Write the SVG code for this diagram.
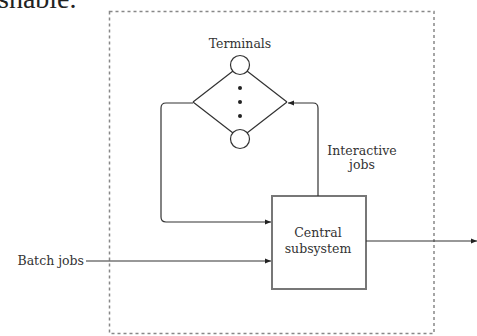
<svg xmlns="http://www.w3.org/2000/svg" width="477" height="336" viewBox="0 0 477 336">
<defs>
<style>
.t{font-family:"DejaVu Serif","Liberation Serif",serif;font-size:12.5px;fill:#333}
.ln{fill:none;stroke:#333;stroke-width:1.2}
.g{fill:none;stroke:#777;stroke-width:2}
</style>
<marker id="ah" viewBox="0 0 10 10" refX="10" refY="5" markerWidth="7" markerHeight="6" orient="auto" markerUnits="userSpaceOnUse">
<path d="M0,1 L10,5 L0,9 z" fill="#222"/>
</marker>
</defs>
<rect width="477" height="336" fill="#fff"/>
<text x="-2" y="8" style="font-family:'Liberation Serif',serif;font-size:28px;fill:#222">shable.</text>
<rect id="boundary" x="109.5" y="11.5" width="324.5" height="322" fill="none" stroke="#888" stroke-width="1.5" stroke-dasharray="3,3"/>
<g id="terminals">
<text class="t" x="240" y="48" text-anchor="middle" font-size="12">Terminals</text>
<circle cx="240" cy="65" r="9.5" fill="#fff" stroke="#333" stroke-width="1.2"/>
<circle cx="240" cy="139" r="9.5" fill="#fff" stroke="#333" stroke-width="1.2"/>
<path class="ln" d="M193,102 L233,71 M193,102 L233,133 M287,102 L247,71 M287,102 L247,133"/>
<circle cx="240" cy="88" r="2" fill="#222"/>
<circle cx="240" cy="102" r="2" fill="#222"/>
<circle cx="240" cy="116" r="2" fill="#222"/>
</g>
<g id="central">
<rect x="272" y="196" width="94" height="93" fill="#fff" stroke="#777" stroke-width="2"/>
<text class="t" x="318" y="237" text-anchor="middle">Central</text>
<text class="t" x="318" y="253" text-anchor="middle">subsystem</text>
</g>
<g id="connectors">
<path class="ln" d="M193,103 L166,103 Q161,103 161,108 L161,217 Q161,222 166,222 L271,222" marker-end="url(#ah)"/>
<path class="ln" d="M318,196 L318,108 Q318,103 313,103 L288,103" marker-end="url(#ah)"/>
<path class="ln" d="M86,261 L271,261" marker-end="url(#ah)"/>
<path class="ln" d="M366,241 L477,241" marker-end="url(#ah)"/>
</g>
<g id="labels">
<text class="t" x="362" y="155" text-anchor="middle">Interactive</text>
<text class="t" x="362" y="169" text-anchor="middle">jobs</text>
<text class="t" x="84" y="265" text-anchor="end">Batch jobs</text>
</g>
</svg>
